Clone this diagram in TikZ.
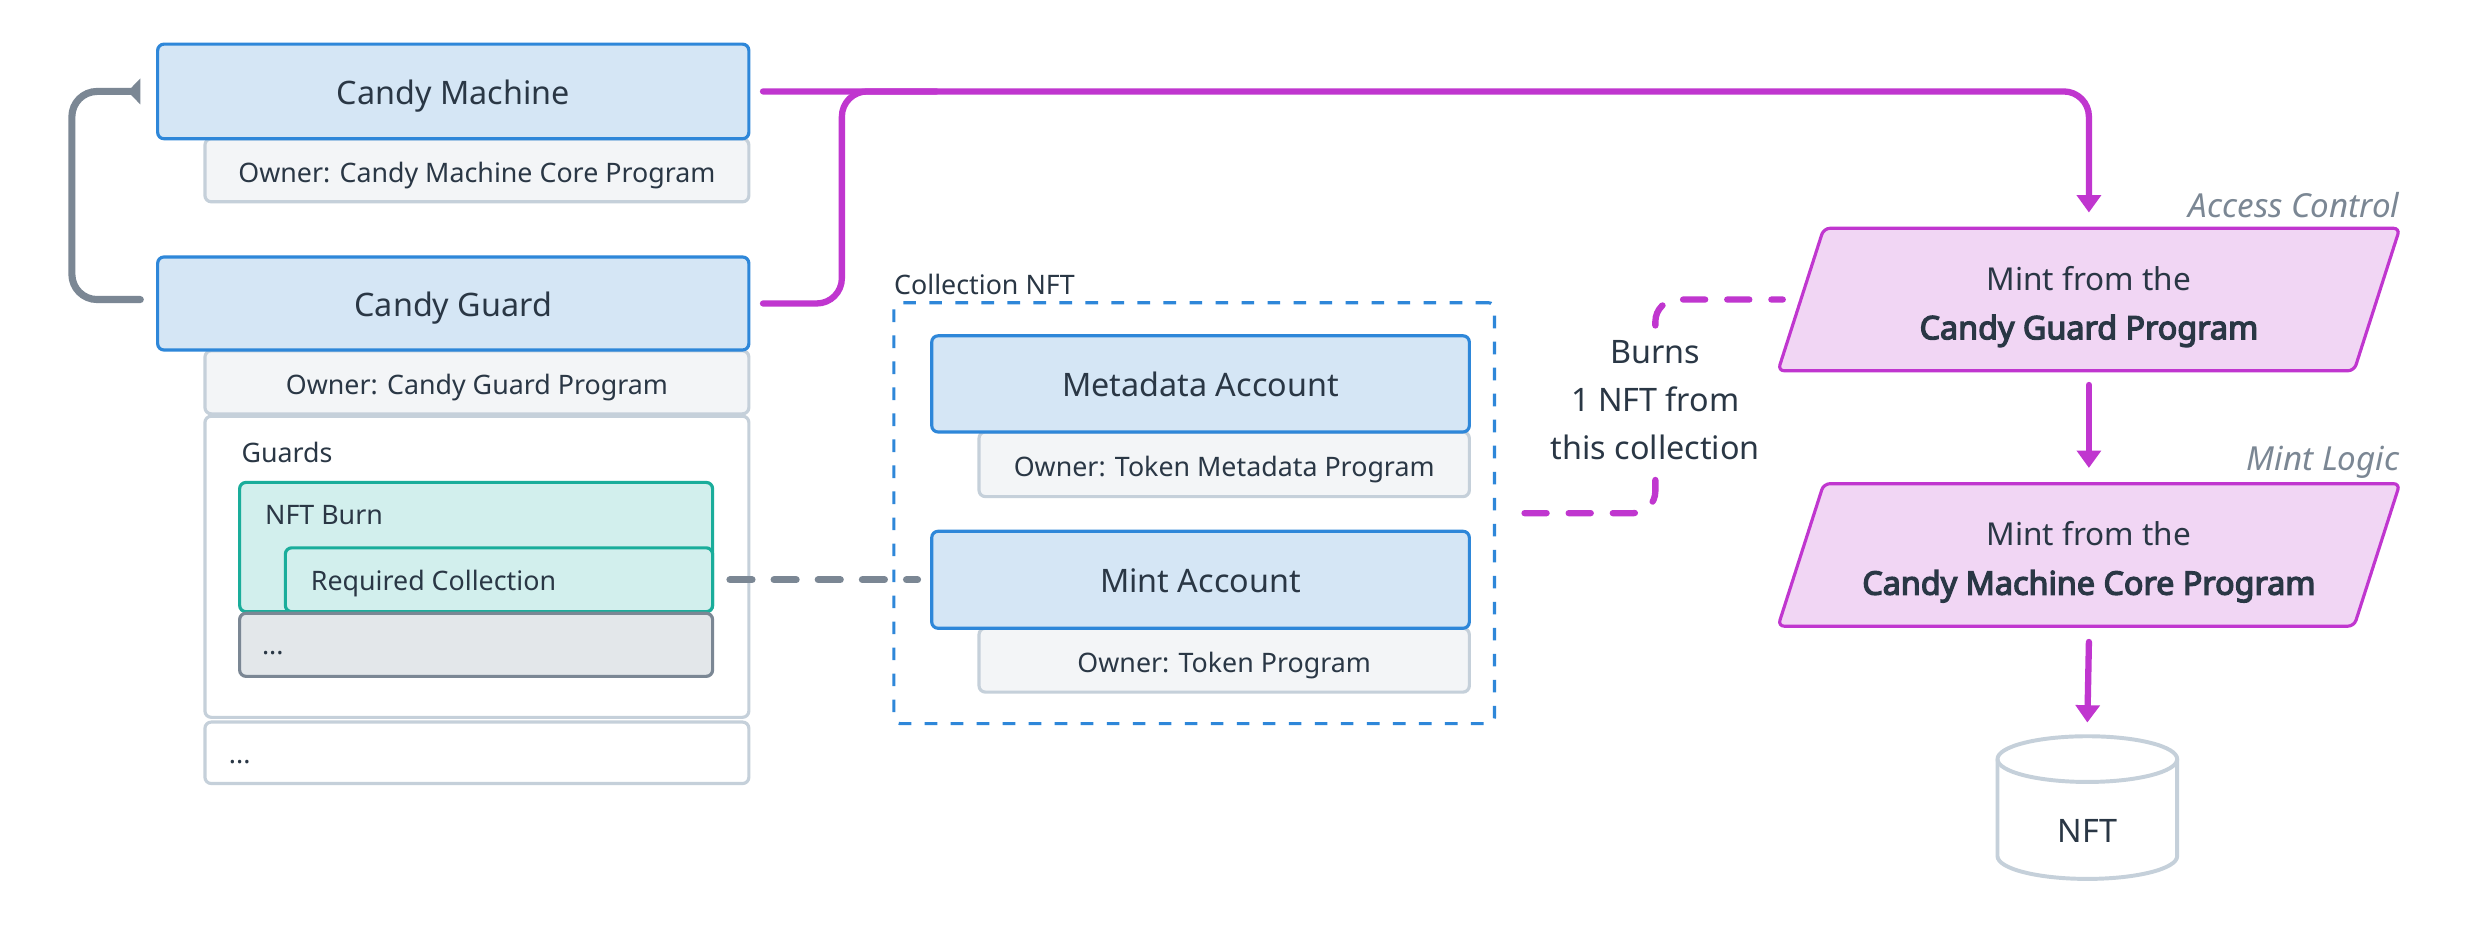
\documentclass[tikz,border=0pt]{standalone}
\usepackage{fontspec}
\setmainfont{Noto Sans}
\newfontfamily\boldnoto{Noto Sans}[FakeBold=4]
\usetikzlibrary{arrows.meta}
\definecolor{txt}{HTML}{2A3745}
\definecolor{bluefill}{HTML}{D5E6F5}
\definecolor{blueline}{HTML}{2E87D9}
\definecolor{ownfill}{HTML}{F3F5F7}
\definecolor{ownline}{HTML}{C5D0DA}
\definecolor{tealfill}{HTML}{D2EFED}
\definecolor{tealline}{HTML}{1AAD9B}
\definecolor{grayfill}{HTML}{E3E7EA}
\definecolor{grayline}{HTML}{7B8794}
\definecolor{mag}{HTML}{C036CF}
\definecolor{magfill}{HTML}{F1D6F4}
\tikzset{
  base/.style={rectangle, rounded corners=4pt, line width=2pt, inner sep=0pt, text=txt},
  acct/.style={base, draw=blueline, fill=bluefill, font=\fontsize{20.5}{25}\selectfont, text height=16.4pt, text depth=0pt},
  owner/.style={base, draw=ownline, fill=ownfill, font=\fontsize{17}{21}\selectfont, text height=15.1pt, text depth=0pt},
  panel/.style={base, draw=ownline, fill=white},
  tealbox/.style={base, draw=tealline, fill=tealfill},
  graybox/.style={base, draw=grayline, fill=grayfill},
  lbl/.style={inner sep=0pt, text=txt, font=\fontsize{17}{21}\selectfont, text height=12.1pt, text depth=0pt},
  paraframe/.style={inner sep=0pt, minimum width=394pt, minimum height=90pt},
  para/.style={draw=mag, fill=magfill, line width=2pt, rounded corners=4pt},
  paratext/.style={inner sep=0pt, text=txt, align=center, font=\fontsize{20}{31}\selectfont},
  tag/.style={inner sep=0pt, text=grayline, font=\fontsize{21}{25}\selectfont\itshape, anchor=east},
  magline/.style={draw=mag, line width=4pt, line cap=round},
  magarrow/.style={magline, -{Triangle[width=15pt,length=11pt]}},
}
\begin{document}
\begin{tikzpicture}[x=1pt, y=-1pt]
\fill[white] (0,0) rectangle (1568,593.7);
\useasboundingbox (0,0) rectangle (1568,593.7);

% ---- left column ----
\node[owner, minimum width=345pt, minimum height=40pt] (cmown) at (302.5,108) {Owner: Candy Machine Core Program};
\node[acct, minimum width=375pt, minimum height=60pt] (cm) at (287.5,58) {Candy Machine};
\node[owner, minimum width=345pt, minimum height=40pt] (cgown) at (302.5,242.5) {Owner: Candy Guard Program};
\node[acct, minimum width=375pt, minimum height=59pt] (cg) at (287.5,192.5) {Candy Guard};
\node[panel, minimum width=345pt, minimum height=191pt] (guards) at (302.5,359.5) {};
\node[lbl, anchor=west] (guardslbl) at (153,287.5) {Guards};
\node[tealbox, minimum width=300pt, minimum height=82pt] (burn) at (302,347) {};
\node[lbl, anchor=west] (burnlbl) at (168,326.7) {NFT Burn};
\node[tealbox, minimum width=271pt, minimum height=40.5pt] (rc) at (316.5,367.75) {};
\node[lbl, anchor=west] (rclbl) at (197,368.6) {Required Collection};
\node[graybox, minimum width=300pt, minimum height=40pt] (more) at (302,409) {};
\node[lbl, anchor=base west, text height=, text depth=] (morelbl) at (166,415) {...};
\node[panel, minimum width=345pt, minimum height=39pt] (rest) at (302.5,477.5) {};
\node[lbl, anchor=base west, text height=, text depth=] (restlbl) at (145,484) {...};

% loop arrow
\coordinate (lx) at (45.6,0);
\coordinate (ls) at ([xshift=-10pt,yshift=2.5pt]cg.west);
\coordinate (le) at ([xshift=-10pt]cm.west);
\draw[grayline, line width=4.5pt, line cap=round, rounded corners=16pt, -{Triangle[reversed, width=16pt, length=8pt]}]
  (ls) -- (ls -| lx) -- (le -| lx) -- (le);

% ---- collection NFT ----
\node[base, draw=blueline, dash pattern=on 8pt off 8.5pt, minimum width=381pt, minimum height=267pt] (coll) at (757.5,325.5) {};
\node[lbl, anchor=west] (colllbl) at (567,180.8) {Collection NFT};
\node[owner, minimum width=311pt, minimum height=41pt] (mdown) at (776.5,294.5) {Owner: Token Metadata Program};
\node[acct, minimum width=341pt, minimum height=61pt] (md) at (761.5,243.5) {Metadata Account};
\node[owner, minimum width=311pt, minimum height=40.5pt] (mintown) at (776.5,418.75) {Owner: Token Program};
\node[acct, minimum width=341pt, minimum height=61.5pt] (mint) at (761.5,367.75) {Mint Account};

\draw[grayline, line width=4.5pt, line cap=round, dash pattern=on 14pt off 14pt]
  ([xshift=10pt]rc.east) -- ([xshift=-8pt]mint.west);

% ---- right column ----
\node[paraframe] (ac) at (1325,190) {};
\draw[para] ([xshift=29pt]ac.north west) -- (ac.north east) -- ([xshift=-29pt]ac.south east) -- (ac.south west) -- cycle;
\node[paratext] (actext) at (1325,194.5) {Mint from the\\{\boldnoto\fontsize{20.5}{31}\selectfont Candy Guard Program}};
\node[tag] (actag) at (1522,130) {Access Control};

\node[paraframe] (ml) at (1325,352) {};
\draw[para] ([xshift=29pt]ml.north west) -- (ml.north east) -- ([xshift=-29pt]ml.south east) -- (ml.south west) -- cycle;
\node[paratext] (mltext) at (1325,356.5) {Mint from the\\{\boldnoto\fontsize{20.5}{31}\selectfont Candy Machine Core Program}};
\node[tag] (mltag) at (1522,293) {Mint Logic};

% NFT cylinder
\node[inner sep=0pt, minimum width=114pt, minimum height=90.5pt] (nft) at (1324,512.25) {};
\filldraw[draw=ownline, fill=white, line width=2.5pt]
  (1267,481.5) -- (1267,543) .. controls (1267,551) and (1292.5,557.5) .. (1324,557.5)
  .. controls (1355.5,557.5) and (1381,551) .. (1381,543) -- (1381,481.5)
  .. controls (1381,473.5) and (1355.5,467) .. (1324,467)
  .. controls (1292.5,467) and (1267,473.5) .. (1267,481.5) -- cycle;
\draw[draw=ownline, line width=2.5pt]
  (1267,481.5) .. controls (1267,489.5) and (1292.5,496) .. (1324,496)
  .. controls (1355.5,496) and (1381,489.5) .. (1381,481.5);
\node[inner sep=0pt, text=txt, font=\fontsize{20.5}{25}\selectfont] (nftlbl) at (1324,527) {NFT};

% ---- connectors ----
\coordinate (jn) at (534,58);
\draw[magarrow, rounded corners=16pt] ([xshift=8pt]cm.east) -| ([yshift=10pt]ac.north);
\draw[magline, rounded corners=16pt] ([xshift=8pt]cg.east) -| (jn) -- ([xshift=60pt]jn);
\draw[magarrow] ([yshift=-9pt]ac.south) -- ([yshift=10pt]ml.north);
\draw[magarrow] ([yshift=-10pt]ml.south) -- ([yshift=8.5pt]nft.north);

\coordinate (bx) at (1050,0);
\coordinate (bs) at ([xshift=18pt]coll.east);
\coordinate (be) at ([xshift=3pt]ac.west);
\draw[magline, dash pattern=on 14pt off 14pt, rounded corners=14pt]
  (bs) -- (bs -| bx) -- (be -| bx) -- (be);
\node[fill=white, inner xsep=4pt, inner ysep=6pt, align=center, text=txt, font=\fontsize{20.5}{30.5}\selectfont] (burns) at (1050,254) {Burns\\1 NFT from\\this collection};
\end{tikzpicture}
\end{document}
